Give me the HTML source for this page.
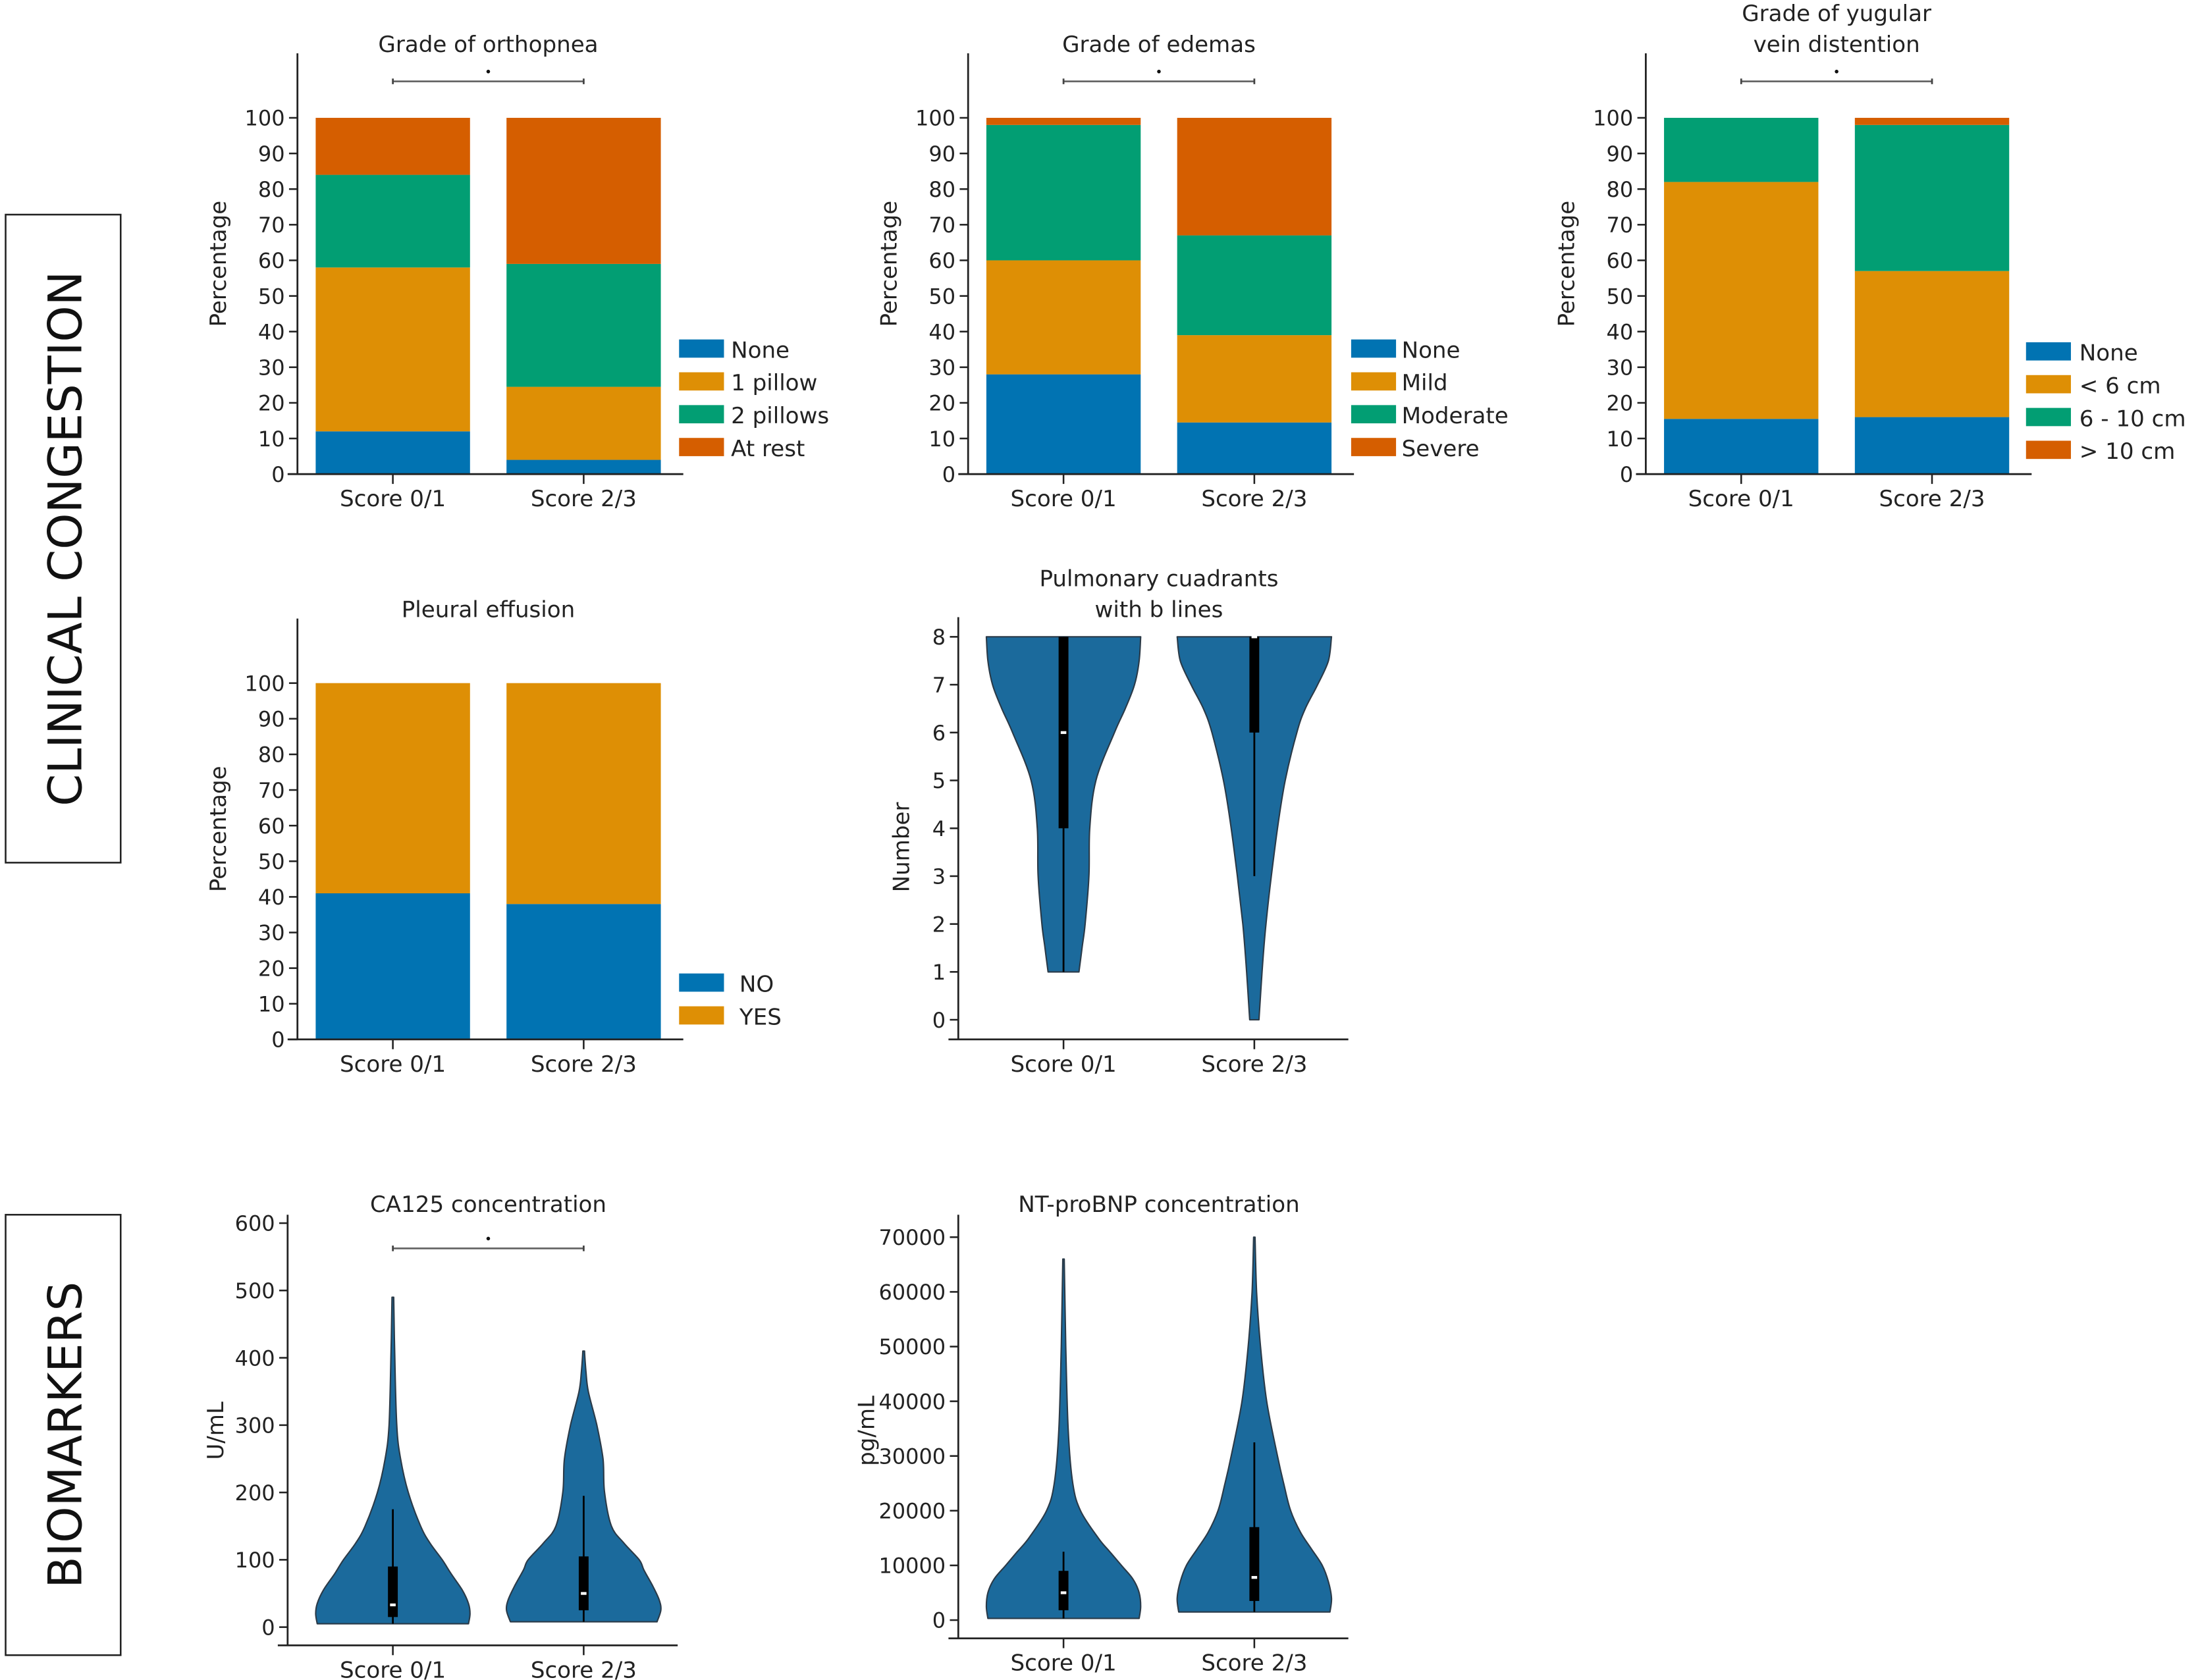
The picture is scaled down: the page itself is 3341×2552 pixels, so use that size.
<!DOCTYPE html>
<html><head><meta charset="utf-8">
<style>
html,body{margin:0;padding:0;background:#fff;}
svg{display:block;font-family:"DejaVu Sans","Liberation Sans",sans-serif;}
</style></head>
<body>
<svg id="fig" width="3341" height="2552" viewBox="0 0 1568 1197.7" xmlns="http://www.w3.org/2000/svg">
<rect x="0" y="0" width="1568" height="1198" fill="#fff"/>
<g>
<rect x="4" y="153" width="82" height="462" fill="none" stroke="#222" stroke-width="1.2"/>
<text x="0" y="0" transform="translate(58,384) rotate(-90)" text-anchor="middle" font-size="33" fill="#111">CLINICAL CONGESTION</text>
</g>
<g>
<rect x="4" y="866" width="82" height="314" fill="none" stroke="#222" stroke-width="1.2"/>
<text x="0" y="0" transform="translate(58,1023) rotate(-90)" text-anchor="middle" font-size="33" fill="#111">BIOMARKERS</text>
</g>
</svg>
<script>
// ---------- data ----------
const groups = ["Score 0/1", "Score 2/3"];
const colors = ["#0173b2", "#de8f05", "#029e73", "#d55e00"];

const orthoLabels = ["None", "1 pillow", "2 pillows", "At rest"];
const orthoS01 = [12, 46, 26, 16];
const orthoS23 = [4, 20.5, 34.5, 41];

const edemaLabels = ["None", "Mild", "Moderate", "Severe"];
const edemaS01 = [28, 32, 38, 2];
const edemaS23 = [14.5, 24.5, 28, 33];

const jvdLabels = ["None", "< 6 cm", "6 - 10 cm", "> 10 cm"];
const jvdS01 = [15.5, 66.5, 18, 0];
const jvdS23 = [16, 41, 41, 2];

const pleuralLabels = ["NO", "YES"];
const pleuralS01 = [41, 59];
const pleuralS23 = [38, 62];

const pctTicks = [0,10,20,30,40,50,60,70,80,90,100];

// violin data: value levels and relative density (0..1)
const bVals01 = [1, 1.5, 2, 3, 4, 5, 6, 6.5, 7, 7.5, 8];
const bDens01 = [0.2, 0.24, 0.28, 0.33, 0.34, 0.42, 0.66, 0.8, 0.92, 0.98, 1];
const bBox01 = [1, 4, 6, 8, 8];   // whiskerLow, q1, median, q3, whiskerHigh
const bVals23 = [0, 1, 2, 3, 4, 5, 6, 6.5, 7, 7.5, 8];
const bDens23 = [0.06, 0.1, 0.15, 0.22, 0.3, 0.4, 0.55, 0.66, 0.82, 0.96, 1];
const bBox23 = [3, 6, 8, 8, 8];
const bTicks = [0,1,2,3,4,5,6,7,8];

const caVals01 = [5, 20, 35, 55, 80, 100, 125, 150, 200, 250, 300, 400, 490];
const caDens01 = [0.98, 1, 0.98, 0.9, 0.75, 0.64, 0.48, 0.36, 0.2, 0.1, 0.05, 0.025, 0.01];
const caBox01 = [5, 15, 33, 90, 175];
const caVals23 = [8, 25, 40, 60, 85, 100, 125, 150, 200, 250, 300, 350, 380, 410];
const caDens23 = [0.95, 1, 0.98, 0.9, 0.78, 0.72, 0.52, 0.36, 0.27, 0.25, 0.17, 0.06, 0.03, 0.01];
const caBox23 = [8, 25, 50, 105, 195];
const caTicks = [0,100,200,300,400,500,600];

const ntVals01 = [300, 2500, 5000, 7500, 10000, 12500, 15000, 20000, 25000, 35000, 50000, 66000];
const ntDens01 = [0.98, 1, 0.98, 0.9, 0.75, 0.6, 0.45, 0.22, 0.12, 0.06, 0.03, 0.01];
const ntBox01 = [300, 1800, 5000, 9000, 12500];
const ntVals23 = [1500, 4000, 7000, 10000, 13000, 16000, 20000, 25000, 30000, 40000, 50000, 60000, 70000];
const ntDens23 = [0.98, 1, 0.96, 0.88, 0.74, 0.6, 0.47, 0.38, 0.3, 0.16, 0.08, 0.03, 0.01];
const ntBox23 = [1500, 3500, 7800, 17000, 32500];
const ntTicks = [0,10000,20000,30000,40000,50000,60000,70000];

// ---------- helpers ----------
const NS = "http://www.w3.org/2000/svg";
const svg = document.getElementById("fig");
function mk(tag, attrs, parent, txt){
  const e = document.createElementNS(NS, tag);
  for (const k in attrs) e.setAttribute(k, attrs[k]);
  if (txt !== undefined) e.textContent = txt;
  (parent || svg).appendChild(e);
  return e;
}
function lin(d0, d1, r0, r1){ return v => r0 + (v - d0) * (r1 - r0) / (d1 - d0); }
function smooth(pts){
  // catmull-rom to bezier, open curve
  let d = "";
  for (let i=0;i<pts.length-1;i++){
    const p0 = pts[Math.max(0,i-1)], p1 = pts[i], p2 = pts[i+1], p3 = pts[Math.min(pts.length-1,i+2)];
    const c1 = [p1[0]+(p2[0]-p0[0])/6, p1[1]+(p2[1]-p0[1])/6];
    const c2 = [p2[0]-(p3[0]-p1[0])/6, p2[1]-(p3[1]-p1[1])/6];
    d += ` C${c1[0].toFixed(1)},${c1[1].toFixed(1)} ${c2[0].toFixed(1)},${c2[1].toFixed(1)} ${p2[0].toFixed(1)},${p2[1].toFixed(1)}`;
  }
  return d;
}

function axes(g, ax){
  mk("line",{x1:ax.x0,y1:ax.yTop,x2:ax.x0,y2:ax.yBot,stroke:"#222","stroke-width":1.3},g);
  mk("line",{x1:ax.x0-7,y1:ax.yBot,x2:ax.xEnd,y2:ax.yBot,stroke:"#222","stroke-width":1.3},g);
  ax.ticks.forEach(t=>{
    const y = ax.y(t);
    const tk = mk("line",{x1:ax.x0-6,y1:y,x2:ax.x0,y2:y,stroke:"#222","stroke-width":1.2},g);
    
    
    const lb = mk("text",{x:ax.x0-9,y:y+5.5,"text-anchor":"end","font-size":15,fill:"#222"},g,String(t));
    
    
  });
  groups.forEach((gname,i)=>{
    const cx = ax.centers[i];
    mk("line",{x1:cx,y1:ax.yBot,x2:cx,y2:ax.yBot+7,stroke:"#222","stroke-width":1.2},g);
    const lb = mk("text",{x:cx,y:ax.yBot+23,"text-anchor":"middle","font-size":16,fill:"#222"},g,gname);
    
    
  });
  const yt = mk("text",{transform:`translate(${ax.ylabX},${ax.ylabY}) rotate(-90)`,"text-anchor":"middle","font-size":16,fill:"#222"},g,ax.ylab);
  
  
  ax.title.forEach((line,i)=>{
    const tt = mk("text",{x:ax.titleX,y:ax.titleY+i*22,"text-anchor":"middle","font-size":16,fill:"#222"},g,line);
    
    
  });
}
function bracket(g, x1, x2, y){
  const b = mk("g",{},g);
  
  
  mk("line",{x1:x1,y1:y,x2:x2,y2:y,stroke:"#666","stroke-width":1.3},b);
  mk("line",{x1:x1,y1:y-2,x2:x1,y2:y+2,stroke:"#444","stroke-width":1.3},b);
  mk("line",{x1:x2,y1:y-2,x2:x2,y2:y+2,stroke:"#444","stroke-width":1.3},b);
  mk("circle",{cx:(x1+x2)/2,cy:y-7,r:1.3,fill:"#111"},b);
}

function stacked(name, cfg, s01, s23, labels){
  const g = mk("g",{});
  
  
  const y = lin(0,100,cfg.yBot,cfg.yBot-254);
  const x0 = cfg.x0;
  const centers = [x0+68, x0+204];
  [s01, s23].forEach((vals,gi)=>{
    let acc = 0;
    vals.forEach((v,si)=>{
      if (v<=0) { return; }
      const r = mk("rect",{x:centers[gi]-55,y:y(acc+v),width:110,height:y(acc)-y(acc+v),fill:colors[si]},g);
      
      
      acc += v;
    });
  });
  axes(g,{x0:x0,yTop:cfg.yBot-300,yBot:cfg.yBot,xEnd:x0+275,y:y,ticks:pctTicks,centers:centers,
          ylab:"Percentage",ylabX:x0-51,ylabY:cfg.yBot-150,title:cfg.title,titleX:x0+136,titleY:cfg.titleY});
  if (cfg.bracket) bracket(g, centers[0], centers[1], cfg.yBot-280);
  const lg = mk("g",{},g);
  
  
  labels.forEach((l,i)=>{
    const ly = cfg.legY + i*23.4;
    const e = mk("g",{},lg);
    
    
    mk("rect",{x:cfg.legX,y:ly-7,width:32,height:13,fill:colors[i]},e);
    mk("text",{x:cfg.legX+cfg.legTx,y:ly+6,"font-size":16,fill:"#222"},e,l);
  });
}

function violin(name, cfg, data){
  const g = mk("g",{});
  
  
  const y = lin(cfg.dom[0],cfg.dom[1],cfg.y0,cfg.y1);
  const x0 = cfg.x0;
  const centers = [x0+75, x0+211];
  data.forEach((d,gi)=>{
    const cx = centers[gi];
    const W = 55;
    const right = d.vals.map((v,i)=>[cx + d.dens[i]*W, y(v)]);
    const left = d.vals.map((v,i)=>[cx - d.dens[i]*W, y(v)]).reverse();
    let path = `M${left[left.length-1][0].toFixed(1)},${left[left.length-1][1].toFixed(1)} L${right[0][0].toFixed(1)},${right[0][1].toFixed(1)}`;
    path += smooth(right);
    path += ` L${left[0][0].toFixed(1)},${left[0][1].toFixed(1)}`;
    path += smooth(left) + " Z";
    const p = mk("path",{d:path,fill:"#1b6a9c",stroke:"#2a3a48","stroke-width":1,"stroke-linejoin":"round"},g);
    
    
    const b = d.box;
    const w = mk("line",{x1:cx,y1:y(b[0]),x2:cx,y2:y(b[4]),stroke:"#000","stroke-width":1.3},g);
    
    
    const bx = mk("rect",{x:cx-3.5,y:y(b[3]),width:7,height:Math.max(0.5,y(b[1])-y(b[3])),fill:"#000"},g);
    
    
    const m = mk("rect",{x:cx-2,y:y(b[2])-1,width:4,height:2,fill:"#fff"},g);
    
    
  });
  axes(g,{x0:x0,yTop:cfg.yTop,yBot:cfg.yBot,xEnd:x0+278,y:y,ticks:cfg.ticks,centers:centers,
          ylab:cfg.ylab,ylabX:cfg.ylabX,ylabY:cfg.ylabY,title:cfg.title,titleX:x0+143,titleY:cfg.titleY});
  if (cfg.bracket) bracket(g, centers[0], centers[1], cfg.bracketY);
}

stacked("orthopnea-chart",{x0:212,yBot:338,title:["Grade of orthopnea"],titleY:37,bracket:true,legX:484,legY:249,legTx:37},orthoS01,orthoS23,orthoLabels);
stacked("edemas-chart",{x0:690,yBot:338,title:["Grade of edemas"],titleY:37,bracket:true,legX:963,legY:249,legTx:36},edemaS01,edemaS23,edemaLabels);
stacked("jvd-chart",{x0:1173,yBot:338,title:["Grade of yugular","vein distention"],titleY:15,bracket:true,legX:1444,legY:251,legTx:38},jvdS01,jvdS23,jvdLabels);
stacked("pleural-chart",{x0:212,yBot:741,title:["Pleural effusion"],titleY:440,bracket:false,legX:484,legY:701,legTx:43},pleuralS01,pleuralS23,pleuralLabels);

violin("b-lines-chart",{x0:683,dom:[0,8],y0:727,y1:454,yTop:440,yBot:741,ticks:bTicks,ylab:"Number",ylabX:648,ylabY:604,
  title:["Pulmonary cuadrants","with b lines"],titleY:418},
  [{vals:bVals01,dens:bDens01,box:bBox01},{vals:bVals23,dens:bDens23,box:bBox23}]);
violin("ca125-chart",{x0:205,dom:[0,600],y0:1160,y1:872,yTop:866,yBot:1173,ticks:caTicks,ylab:"U/mL",ylabX:159,ylabY:1020,
  title:["CA125 concentration"],titleY:864,bracket:true,bracketY:890},
  [{vals:caVals01,dens:caDens01,box:caBox01},{vals:caVals23,dens:caDens23,box:caBox23}]);
violin("ntprobnp-chart",{x0:683,dom:[0,70000],y0:1155,y1:882,yTop:866,yBot:1168,ticks:ntTicks,ylab:"pg/mL",ylabX:623,ylabY:1020,
  title:["NT-proBNP concentration"],titleY:864},
  [{vals:ntVals01,dens:ntDens01,box:ntBox01},{vals:ntVals23,dens:ntDens23,box:ntBox23}]);
</script>
</body></html>
